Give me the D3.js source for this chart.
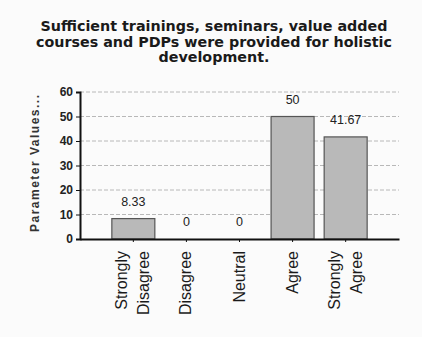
<!DOCTYPE html>
<html>
<head>
<meta charset="utf-8">
<script src="https://cdn.jsdelivr.net/npm/d3@7"></script>
<style>
  html, body { margin: 0; padding: 0; background: #fbfbfb; }
  svg { display: block; }
</style>
</head>
<body>
<svg id="chart" width="422" height="337"></svg>
<script>
// Survey responses (percentage of respondents)
const categories = [["Strongly", "Disagree"], ["Disagree"], ["Neutral"], ["Agree"], ["Strongly", "Agree"]];
const values = [8.33, 0, 0, 50, 41.67];
const valueLabels = ["8.33", "0", "0", "50", "41.67"];
const yTicks = [0, 10, 20, 30, 40, 50, 60];
const titleLines = [
  "Sufficient trainings, seminars, value added",
  "courses and PDPs were provided for holistic",
  "development."
];
const yAxisTitle = "Parameter Values...";

const svg = d3.select("#chart");
const margin = { left: 80, right: 23, top: 92, bottom: 98 };
const W = 422, H = 337;

const x = d3.scaleBand()
  .domain(d3.range(categories.length))
  .range([margin.left, W - margin.right])
  .paddingInner(0.19)
  .paddingOuter(0.6);

const y = d3.scaleLinear()
  .domain([0, 60])
  .range([H - margin.bottom, margin.top]);

// Title
svg.append("g")
  .selectAll("text")
  .data(titleLines)
  .join("text")
  .attr("x", 214)
  .attr("y", (d, i) => 31 + i * 15.5)
  .attr("text-anchor", "middle")
  .attr("font-family", "DejaVu Sans")
  .attr("font-weight", "bold")
  .attr("font-size", 14.3)
  .attr("fill", "#1a1a1a")
  .text(d => d);

// Horizontal gridlines
svg.append("g")
  .selectAll("line")
  .data(yTicks.filter(t => t > 0))
  .join("line")
  .attr("x1", margin.left)
  .attr("x2", W - margin.right)
  .attr("y1", d => y(d))
  .attr("y2", d => y(d))
  .attr("stroke", "#b8b8b8")
  .attr("stroke-width", 1)
  .attr("stroke-dasharray", "4,2");

// Bars
svg.append("g")
  .selectAll("rect")
  .data(values)
  .join("rect")
  .attr("x", (d, i) => x(i))
  .attr("y", d => y(d))
  .attr("width", x.bandwidth())
  .attr("height", d => y(0) - y(d))
  .attr("fill", "#b9b9b9")
  .attr("stroke", "#555")
  .attr("stroke-width", 1.2);

// Value labels
svg.append("g")
  .selectAll("text")
  .data(values)
  .join("text")
  .attr("x", (d, i) => x(i) + x.bandwidth() / 2)
  .attr("y", d => y(d) - 13)
  .attr("text-anchor", "middle")
  .attr("font-family", "Liberation Sans")
  .attr("font-size", 12.5)
  .attr("fill", "#222")
  .text((d, i) => valueLabels[i]);

// Y axis
const yAxis = svg.append("g")
  .attr("transform", `translate(${margin.left},0)`)
  .call(d3.axisLeft(y).tickValues(yTicks).tickSize(4).tickPadding(3));
yAxis.select(".domain").attr("stroke", "#111").attr("stroke-width", 2);
yAxis.selectAll(".tick line").attr("stroke", "#111");
yAxis.selectAll(".tick text")
  .attr("font-family", "Liberation Sans")
  .attr("font-weight", "bold")
  .attr("font-size", 12)
  .attr("fill", "#222");

// X axis
const xAxis = svg.append("g")
  .attr("transform", `translate(0,${y(0)})`)
  .call(d3.axisBottom(x).tickSize(3).tickSizeOuter(0).tickFormat(""));
xAxis.select(".domain").attr("stroke", "#111").attr("stroke-width", 2);
xAxis.selectAll(".tick line").attr("stroke", "#111");

// Rotated category labels
const catG = svg.append("g");
categories.forEach((lines, i) => {
  const cx = x(i) + x.bandwidth() / 2;
  const n = lines.length;
  lines.forEach((line, j) => {
    const lx = cx + (j - (n - 1) / 2) * 22 + 5;
    catG.append("text")
      .attr("transform", `translate(${lx},251) rotate(-90)`)
      .attr("text-anchor", "end")
      .attr("font-family", "Liberation Sans")
      .attr("font-size", 16)
      .attr("fill", "#1a1a1a")
      .text(line);
  });
});

// Y axis title
svg.append("text")
  .attr("transform", `translate(39,${(95 + 232) / 2}) rotate(-90)`)
  .attr("text-anchor", "middle")
  .attr("font-family", "Liberation Sans")
  .attr("font-weight", "bold")
  .attr("font-size", 12)
  .attr("textLength", 137)
  .attr("lengthAdjust", "spacing")
  .attr("fill", "#333")
  .text(yAxisTitle);
</script>
</body>
</html>
